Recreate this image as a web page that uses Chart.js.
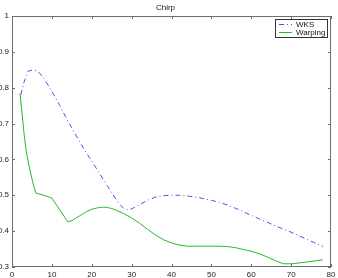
<!DOCTYPE html>
<html>
<head>
<meta charset="utf-8">
<script src="https://cdn.jsdelivr.net/npm/chart.js@4/dist/chart.umd.min.js"></script>
<style>
  body { margin: 0; background: #fff; }
  #wrap { width: 338px; height: 278px; }
</style>
</head>
<body>
<div id="wrap"><canvas id="chirp" width="338" height="278"></canvas></div>
<script>
const wksX = [2.2, 3, 4, 5, 6, 7, 8, 10, 12, 14, 16, 18, 20, 22, 24, 26, 27, 28, 29, 30, 32, 34, 36, 38, 40, 42, 44, 46, 48, 50, 52, 54, 56, 58, 60, 62, 64, 66, 68, 70, 72, 74, 76, 78];
const wksY = [0.78, 0.815, 0.846, 0.849, 0.848, 0.840, 0.826, 0.79, 0.75, 0.707, 0.668, 0.63, 0.595, 0.56, 0.525, 0.49, 0.475, 0.463, 0.46, 0.462, 0.474, 0.486, 0.495, 0.499, 0.5, 0.5, 0.498, 0.495, 0.491, 0.486, 0.48, 0.473, 0.464, 0.454, 0.444, 0.434, 0.425, 0.415, 0.406, 0.397, 0.387, 0.377, 0.367, 0.357];

const warpX = [2, 2.5, 3, 3.5, 4, 4.5, 5, 5.5, 6, 7, 8, 10, 12, 14, 15, 16, 17, 18, 19, 20, 21, 22, 23, 24, 25, 26, 28, 30, 32, 34, 36, 38, 40, 42, 44, 46, 48, 50, 52, 54, 56, 58, 60, 62, 64, 66, 68, 70, 71, 74, 76, 78];
const warpY = [0.784, 0.73, 0.675, 0.628, 0.597, 0.57, 0.546, 0.524, 0.506, 0.503, 0.5, 0.492, 0.459, 0.426, 0.429, 0.436, 0.443, 0.45, 0.456, 0.461, 0.464, 0.466, 0.467, 0.466, 0.463, 0.459, 0.449, 0.437, 0.422, 0.405, 0.389, 0.376, 0.367, 0.361, 0.358, 0.358, 0.358, 0.358, 0.358, 0.357, 0.354, 0.349, 0.344, 0.337, 0.328, 0.318, 0.309, 0.309, 0.31, 0.314, 0.317, 0.32];

const seriesNames = ['WKS', 'Warping'];
const xTicks = [0, 10, 20, 30, 40, 50, 60, 70, 80];
const yTicks = [0.3, 0.4, 0.5, 0.6, 0.7, 0.8, 0.9, 1];

const toPoints = (xs, ys) => xs.map((x, i) => ({ x: x, y: ys[i] }));
const fontFamily = "'Liberation Sans', Arial, sans-serif";
const axisColor = '#6e6e6e';

// matlab style box with ticks pointing inward, plus the boxed legend
const matlabAxes = {
  id: 'matlabAxes',
  afterDraw(chart) {
    const ctx = chart.ctx;
    const a = chart.chartArea;
    const xs = chart.scales.x;
    const ys = chart.scales.y;
    ctx.save();
    ctx.strokeStyle = axisColor;
    ctx.lineWidth = 1;
    ctx.strokeRect(a.left + 0.5, a.top + 0.5, a.right - a.left - 1, a.bottom - a.top - 1);
    ctx.beginPath();
    xTicks.forEach((v) => {
      const px = Math.round(xs.getPixelForValue(v)) + 0.5;
      ctx.moveTo(px, a.bottom);
      ctx.lineTo(px, a.bottom - 3);
      ctx.moveTo(px, a.top);
      ctx.lineTo(px, a.top + 3);
    });
    yTicks.forEach((v) => {
      const py = Math.round(ys.getPixelForValue(v)) + 0.5;
      ctx.moveTo(a.left, py);
      ctx.lineTo(a.left + 3, py);
      ctx.moveTo(a.right, py);
      ctx.lineTo(a.right - 3, py);
    });
    ctx.stroke();

    // legend
    const lx = 275, ly = 19, lw = 53, lh = 19;
    ctx.fillStyle = '#fff';
    ctx.fillRect(lx, ly, lw, lh);
    ctx.strokeStyle = '#333';
    ctx.strokeRect(lx + 0.5, ly + 0.5, lw - 1, lh - 1);
    ctx.font = '8px ' + fontFamily;
    ctx.textBaseline = 'middle';
    chart.data.datasets.forEach((ds, i) => {
      const y = ly + 5.5 + i * 8;
      ctx.beginPath();
      ctx.strokeStyle = ds.borderColor;
      ctx.setLineDash(ds.borderDash || []);
      ctx.moveTo(lx + 4, y);
      ctx.lineTo(lx + 17, y);
      ctx.stroke();
      ctx.setLineDash([]);
      ctx.fillStyle = '#111';
      ctx.fillText(ds.label, lx + 21, y);
    });
    ctx.restore();
  }
};

new Chart(document.getElementById('chirp'), {
  type: 'line',
  data: {
    datasets: [
      {
        label: seriesNames[0],
        data: toPoints(wksX, wksY),
        borderColor: 'rgb(70, 80, 255)',
        borderWidth: 1,
        borderDash: [5, 3, 1, 3],
        pointRadius: 0,
        tension: 0
      },
      {
        label: seriesNames[1],
        data: toPoints(warpX, warpY),
        borderColor: 'rgb(40, 185, 40)',
        borderWidth: 1,
        pointRadius: 0,
        tension: 0
      }
    ]
  },
  options: {
    responsive: false,
    animation: false,
    layout: { padding: { left: 0, right: 7, top: 0, bottom: 0 } },
    plugins: {
      legend: { display: false },
      tooltip: { enabled: false },
      title: {
        display: true,
        text: 'Chirp',
        color: '#111',
        font: { family: fontFamily, size: 8, weight: 'normal', lineHeight: 1 },
        padding: { top: 4, bottom: 4 }
      }
    },
    scales: {
      x: {
        type: 'linear',
        min: 0,
        max: 80,
        grid: { display: false, drawTicks: false },
        border: { display: false },
        afterBuildTicks: (scale) => { scale.ticks = xTicks.map((v) => ({ value: v })); },
        afterFit: (scale) => { scale.height = 11; scale.paddingLeft = 0; scale.paddingRight = 0; },
        ticks: {
          color: '#222',
          padding: 3,
          maxRotation: 0,
          font: { family: fontFamily, size: 8 }
        }
      },
      y: {
        type: 'linear',
        min: 0.3,
        max: 1,
        grid: { display: false, drawTicks: false },
        border: { display: false },
        afterBuildTicks: (scale) => { scale.ticks = yTicks.map((v) => ({ value: v })); },
        afterFit: (scale) => { scale.width = 12; scale.paddingTop = 0; scale.paddingBottom = 0; },
        ticks: {
          color: '#222',
          padding: 3,
          font: { family: fontFamily, size: 8 },
          callback: (v) => String(+v.toFixed(1))
        }
      }
    }
  },
  plugins: [matlabAxes]
});
</script>
</body>
</html>
